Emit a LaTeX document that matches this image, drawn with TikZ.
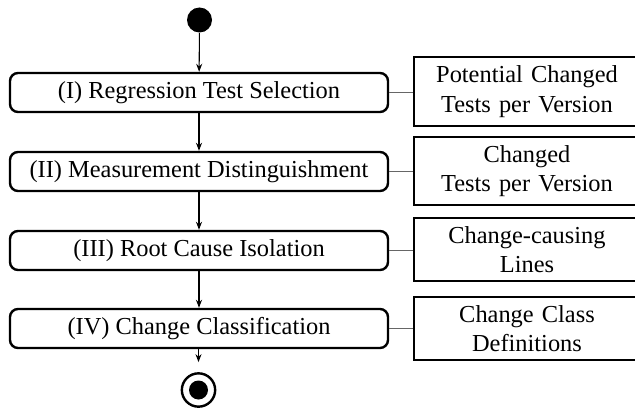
\documentclass[tikz,border=0pt]{standalone}
\usepackage{fontspec}
\setmainfont{Liberation Serif}
\usetikzlibrary{arrows.meta}
\begin{document}
\begin{tikzpicture}[x=0.75pt,y=-0.75pt,
 act/.style={draw, line width=1.8pt, rounded corners=6pt, minimum width=283.5pt, minimum height=29.25pt, inner sep=0pt, font=\fontsize{18.3}{22}\selectfont},
 art/.style={draw, line width=1.8pt, text width=169.5pt, align=center, inner sep=0pt, font=\fontsize{18.3}{22}\selectfont},
 flow/.style={line width=0.8pt, -{Stealth[length=6pt,width=4.5pt]}},
 link/.style={line width=1pt, draw=black!60}]
\useasboundingbox (0,0) rectangle (635,410);
\node[circle, fill, minimum size=18.75pt, inner sep=0pt] (start) at (199.5,20) {};
\node[act] (b1) at (199,92.5) {(I) Regression Test Selection};
\node[act] (b2) at (199,171.5) {(II) Measurement Distinguishment};
\node[act] (b3) at (199,250.5) {(III) Root Cause Isolation};
\node[act] (b4) at (199,328.5) {(IV) Change Classification};
\node[art, minimum height=51.75pt] (r1) at (527,91.5) {Potential Changed\\Tests per Version};
\node[art, minimum height=51pt] (r2) at (527,171) {Changed\\Tests per Version};
\node[art, minimum height=47.25pt] (r3) at (527,249.5) {Change-causing\\Lines};
\node[art, minimum height=47.25pt] (r4) at (527,328.5) {Change Class\\Definitions};
\node[circle, draw, line width=1.8pt, minimum size=25pt, inner sep=0pt] (end) at (198.5,390) {};
\node[circle, fill, minimum size=14.25pt, inner sep=0pt] (endfill) at (end) {};
\draw[flow] (start) -- (b1);
\draw[flow] (b1) -- (b2);
\draw[flow] (b2) -- (b3);
\draw[flow] (b3) -- (b4);
\draw[flow, shorten >=7.5pt] (b4.south -| end) -- (end);
\draw[link] (b1.east) -- (b1.east -| r1.west);
\draw[link] (b2.east) -- (b2.east -| r2.west);
\draw[link] (b3.east) -- (b3.east -| r3.west);
\draw[link] (b4.east) -- (b4.east -| r4.west);
\end{tikzpicture}
\end{document}
